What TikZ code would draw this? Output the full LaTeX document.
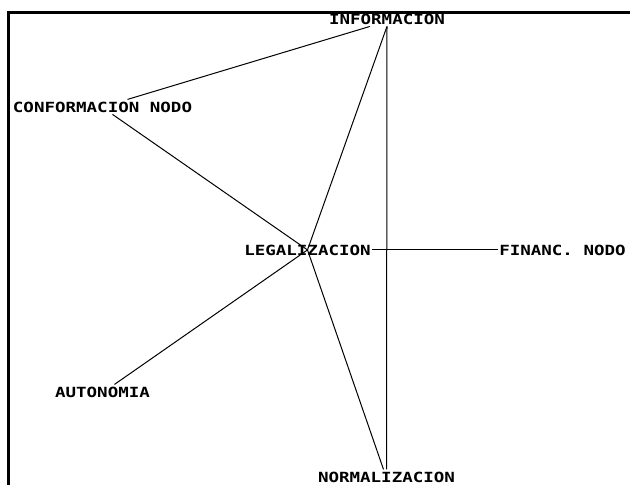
\documentclass[tikz,border=0pt]{standalone}
\usepackage{fontspec}
\newfontfamily\dosfont[FakeStretch=1.25]{DejaVu Sans Mono}
\usepackage{tikz}
\usetikzlibrary{positioning}

\begin{document}
\begin{tikzpicture}[
    x=1pt, y=-1pt,
    lbl/.style={inner xsep=1pt, inner ysep=2pt, anchor=base, font=\dosfont\bfseries\fontsize{14}{14}\selectfont},
    link/.style={line width=1pt}
]
    \useasboundingbox (0,0) rectangle (630,485);
    \clip (0,0) rectangle (630,485);
    \fill[white] (0,0) rectangle (630,485);
    % open frame (left and top only)
    \draw[line width=3pt] (8,495) -- (8,12) -- (640,12);

    \node[lbl] (info) at (387,24) {INFORMACION};
    \node[lbl] (conf) at (102.5,112) {CONFORMACION NODO};
    \node[lbl] (legal) at (307.5,255) {LEGALIZACION};
    \node[lbl] (financ) at (562.5,255) {FINANC. NODO};
    \node[lbl] (auto) at (102.5,397) {AUTONOMIA};
    \node[lbl] (norm) at (386.5,482) {NORMALIZACION};

    \draw[link] ([xshift=-17pt]info.south) -- ([xshift=25pt]conf.north);
    \draw[link] ([xshift=10pt]conf.south) -- (legal.center);
    \draw[link] (info.south) -- (legal.center);
    \draw[link] (legal.center) -- ([xshift=12pt]auto.north);
    \draw[link] (legal.center) -- ([xshift=-3pt]norm.north);
    \draw[link] (info.south) -- (norm.north);
    \draw[link] (legal.east) -- (financ.west);
\end{tikzpicture}
\end{document}
